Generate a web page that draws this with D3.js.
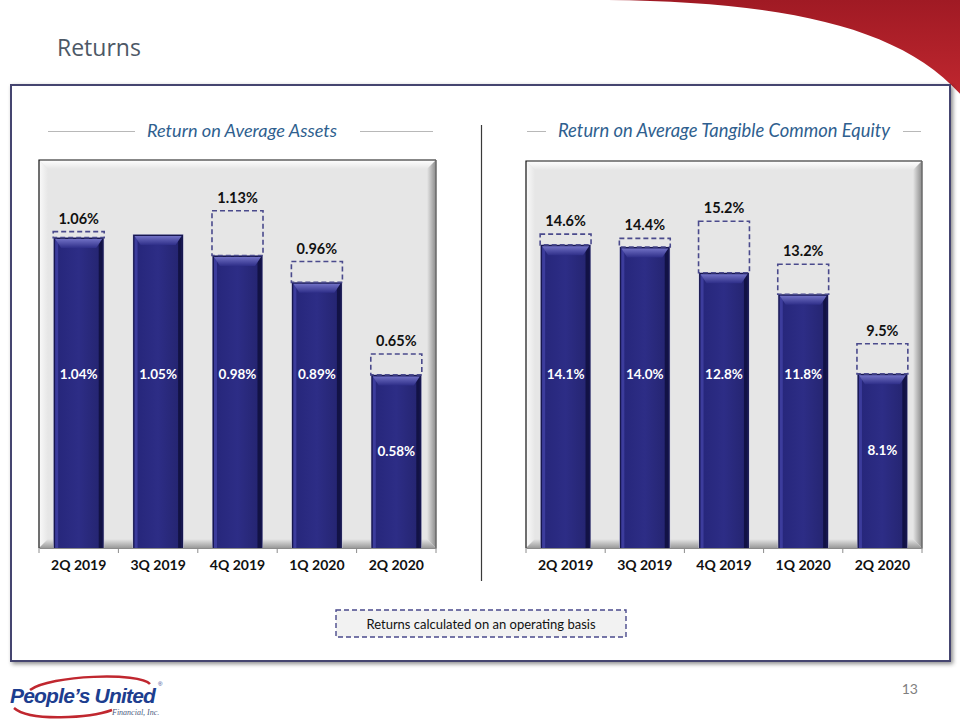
<!DOCTYPE html>
<html><head><meta charset="utf-8">
<script src="https://cdn.jsdelivr.net/npm/d3@7"></script>
<style>body{margin:0;background:#fff}svg{display:block}</style>
</head><body>
<script>
const quarters = ["2Q 2019","3Q 2019","4Q 2019","1Q 2020","2Q 2020"];
const roaGaap = [1.04,1.05,0.98,0.89,0.58];
const roaOperating = [1.06,null,1.13,0.96,0.65];
const rotceGaap = [14.1,14.0,12.8,11.8,8.1];
const rotceOperating = [14.6,14.4,15.2,13.2,9.5];
const roaTitle = "Return on Average Assets";
const rotceTitle = "Return on Average Tangible Common Equity";
const roaFmt = v => v.toFixed(2) + "%";
const rotceFmt = v => v.toFixed(1) + "%";

const W = 960, H = 720;
const FONT = "Lato, 'Open Sans', sans-serif";
const svg = d3.select("body").append("svg").attr("width", W).attr("height", H);
const defs = svg.append("defs");

function lg(id, x1,y1,x2,y2, stops){
  const g = defs.append("linearGradient").attr("id",id).attr("x1",x1).attr("y1",y1).attr("x2",x2).attr("y2",y2);
  stops.forEach(s=>g.append("stop").attr("offset",s[0]).attr("stop-color",s[1]));
}
lg("barBody","0","0","1","0",[["0","#26267a"],["0.5","#2d2d86"],["1","#24246f"]]);
lg("barTop","0","0","0","1",[["0","#7070c4"],["1","#2e2e88"]]);
lg("swoosh","0","0","0","1",[["0","#a01a24"],["1","#c0272f"]]);
lg("bevTop","0","0","0","1",[["0","#ffffff"],["1","#e6e6e6"]]);
lg("bevLeft","0","0","1","0",[["0","#fafafa"],["1","#e6e6e6"]]);
lg("bevRight","0","0","1","0",[["0","#e6e6e6"],["1","#8a8a8a"]]);
lg("bevBot","0","0","0","1",[["0","#e6e6e6"],["1","#9a9a9a"]]);
const sh = defs.append("filter").attr("id","shadow").attr("x","-5%").attr("y","-5%").attr("width","110%").attr("height","110%");
sh.append("feDropShadow").attr("dx",2).attr("dy",2).attr("stdDeviation",2).attr("flood-color","#000").attr("flood-opacity",0.45);

svg.append("path").attr("d","M608,0 C780,2 900,25 962,96 L962,0 Z").attr("fill","url(#swoosh)");

svg.append("text").attr("x",57).attr("y",56).text("Returns")
  .attr("font-family","'Open Sans', sans-serif").attr("font-size",23).attr("fill","#4d5866");

svg.append("rect").attr("x",11).attr("y",85).attr("width",939).attr("height",576)
  .attr("fill","#fff").attr("stroke","#45456f").attr("stroke-width",2).attr("filter","url(#shadow)");

svg.append("line").attr("x1",481.5).attr("x2",481.5).attr("y1",125).attr("y2",581).attr("stroke","#3a3a3a").attr("stroke-width",1.2);

function drawChart(cfg){
  const {x0,x1,top,bottom,gaap,oper,max,fmt,title,titleX,titleSize,lines} = cfg;
  const g = svg.append("g");
  g.append("text").attr("x",titleX).attr("y",137).attr("text-anchor","middle").text(title)
    .attr("font-family",FONT).attr("font-style","italic").attr("font-size",titleSize).attr("fill","#2f5f8f");
  lines.forEach(l=>g.append("line").attr("x1",l[0]).attr("x2",l[1]).attr("y1",131.5).attr("y2",131.5).attr("stroke","#b8b8b8").attr("stroke-width",1));
  const pw = x1-x0, ph = bottom-top;
  g.append("rect").attr("x",x0).attr("y",top).attr("width",pw).attr("height",ph).attr("fill","#e6e6e6");
  const b = 9;
  g.append("path").attr("d",`M${x0},${top}H${x1}L${x1-b},${top+b}H${x0+b}Z`).attr("fill","url(#bevTop)");
  g.append("path").attr("d",`M${x0},${top}L${x0+b},${top+b}V${bottom-b}L${x0},${bottom}Z`).attr("fill","url(#bevLeft)");
  g.append("path").attr("d",`M${x1},${top}L${x1-b},${top+b}V${bottom-b}L${x1},${bottom}Z`).attr("fill","url(#bevRight)");
  g.append("path").attr("d",`M${x0},${bottom}L${x0+b},${bottom-b}H${x1-b}L${x1},${bottom}Z`).attr("fill","url(#bevBot)");
  g.append("path").attr("d",`M${x0},${bottom}V${top}H${x1}`).attr("fill","none").attr("stroke","#111").attr("stroke-width",1.2);
  g.append("line").attr("x1",x1).attr("x2",x1).attr("y1",top).attr("y2",bottom).attr("stroke","#6a6a6a").attr("stroke-width",1.5);

  const x = d3.scaleBand().domain(quarters).range([x0,x1]).paddingInner(0.37).paddingOuter(0.185);
  const y = d3.scaleLinear().domain([0,max]).range([bottom,top]);
  const data = quarters.map((q,i)=>({q, g:gaap[i], o:oper[i]}));
  const bw = x.bandwidth();

  const bars = g.selectAll("g.bar").data(data).join("g").attr("class","bar");
  bars.append("rect").attr("x",d=>x(d.q)-0.5).attr("y",d=>y(d.g)-0.5).attr("width",bw+1).attr("height",d=>bottom-y(d.g)+0.5)
    .attr("fill","#c8c8e0");
  bars.append("rect").attr("x",d=>x(d.q)).attr("y",d=>y(d.g)).attr("width",bw).attr("height",d=>bottom-y(d.g))
    .attr("fill","#17174f");
  bars.append("rect").attr("x",d=>x(d.q)+1.5).attr("y",d=>y(d.g)+1.5).attr("width",bw-3).attr("height",d=>bottom-y(d.g)-1.5)
    .attr("fill","url(#barBody)");
  bars.append("rect").attr("x",d=>x(d.q)+1.5).attr("y",d=>y(d.g)+1.5).attr("width",3).attr("height",d=>bottom-y(d.g)-1.5).attr("fill","#3c3c9c");
  bars.append("rect").attr("x",d=>x(d.q)+bw-5).attr("y",d=>y(d.g)+1.5).attr("width",3.5).attr("height",d=>bottom-y(d.g)-1.5).attr("fill","#121245");
  bars.append("path").attr("d",d=>{const a=x(d.q)+1.5, c=x(d.q)+bw-1.5, t=y(d.g)+1.5;return `M${a},${t}H${c}L${c-6},${t+9}H${a+6}Z`;})
    .attr("fill","url(#barTop)");
  bars.append("text").attr("x",d=>x(d.q)+bw/2)
    .attr("y",d=>{const t = bottom-0.56*(bottom-y(d.g)); return t > 430 ? t : 374;}).attr("dy","0.35em")
    .attr("text-anchor","middle").text(d=>fmt(d.g))
    .attr("font-family",FONT).attr("font-weight",700).attr("font-size",13.5).attr("fill","#fff");
  const op = data.filter(d=>d.o!=null);
  g.selectAll("rect.op").data(op).join("rect").attr("class","op")
    .attr("x",d=>x(d.q)-0.5).attr("y",d=>y(d.o)).attr("width",bw+1).attr("height",d=>y(d.g)-y(d.o))
    .attr("fill","none").attr("stroke","#4a4a8c").attr("stroke-width",1.6).attr("stroke-dasharray","5,3");
  g.selectAll("text.op").data(op).join("text").attr("class","op")
    .attr("x",d=>x(d.q)+bw/2).attr("y",d=>y(d.o)-13).attr("dy","0.35em").attr("text-anchor","middle").text(d=>fmt(d.o))
    .attr("font-family",FONT).attr("font-weight",700).attr("font-size",14.5).attr("fill","#111");

  const ax = g.append("g").attr("transform",`translate(0,${bottom})`)
    .call(d3.axisBottom(x).tickSize(0).tickPadding(12));
  ax.select(".domain").attr("stroke","#8c8c8c").attr("stroke-width",1.2);
  ax.selectAll("text").attr("font-family",FONT).attr("font-weight",700).attr("font-size",14).attr("fill","#111");
  const gap = (x.step()-bw)/2;
  const bounds = quarters.map(q=>x(q)-gap).concat([x(quarters[quarters.length-1])+bw+gap]);
  g.selectAll("line.tk").data(bounds).join("line").attr("class","tk")
    .attr("x1",d=>d).attr("x2",d=>d).attr("y1",bottom).attr("y2",bottom+5).attr("stroke","#8c8c8c");
}

drawChart({x0:39,x1:436,top:160,bottom:548,gaap:roaGaap,oper:roaOperating,max:1.3,fmt:roaFmt,
  title:roaTitle,titleX:242,titleSize:18.2,lines:[[48,135],[360,433]]});
drawChart({x0:526,x1:922,top:161,bottom:548,gaap:rotceGaap,oper:rotceOperating,max:18,fmt:rotceFmt,
  title:rotceTitle,titleX:724,titleSize:18.4,lines:[[527,546],[903,921]]});

svg.append("rect").attr("x",336).attr("y",610).attr("width",290).attr("height",27)
  .attr("fill","#f2f2f2").attr("stroke","#4a4a8c").attr("stroke-width",1.4).attr("stroke-dasharray","5,3");
svg.append("text").attr("x",481).attr("y",624).attr("dy","0.35em").attr("text-anchor","middle")
  .text("Returns calculated on an operating basis")
  .attr("font-family",FONT).attr("font-size",13).attr("fill","#111");

svg.append("text").attr("x",918).attr("y",694).attr("text-anchor","end").text("13")
  .attr("font-family",FONT).attr("font-size",14).attr("fill","#7f7f7f");

const lg2 = svg.append("g");
lg2.append("path").attr("d","M30,690 C50,675 140,672 150,684").attr("fill","none").attr("stroke","#c0272f").attr("stroke-width",2.5);
lg2.append("path").attr("d","M14,708 C30,722 90,718 112,710").attr("fill","none").attr("stroke","#c0272f").attr("stroke-width",2.5);
lg2.append("text").attr("x",10).attr("y",703).text("People’s United")
  .attr("font-family","'Liberation Sans', Arial, sans-serif").attr("font-weight",700).attr("font-style","italic")
  .attr("font-size",21).attr("fill","#1d3e8f").attr("letter-spacing",-0.8);
lg2.append("text").attr("x",158).attr("y",686).text("®").attr("font-family","Arial").attr("font-size",6).attr("fill","#1d3e8f");
lg2.append("text").attr("x",112).attr("y",715).text("Financial, Inc.")
  .attr("font-family","'Liberation Serif', serif").attr("font-style","italic").attr("font-size",8).attr("fill","#4a5a80");
</script>
</body></html>
